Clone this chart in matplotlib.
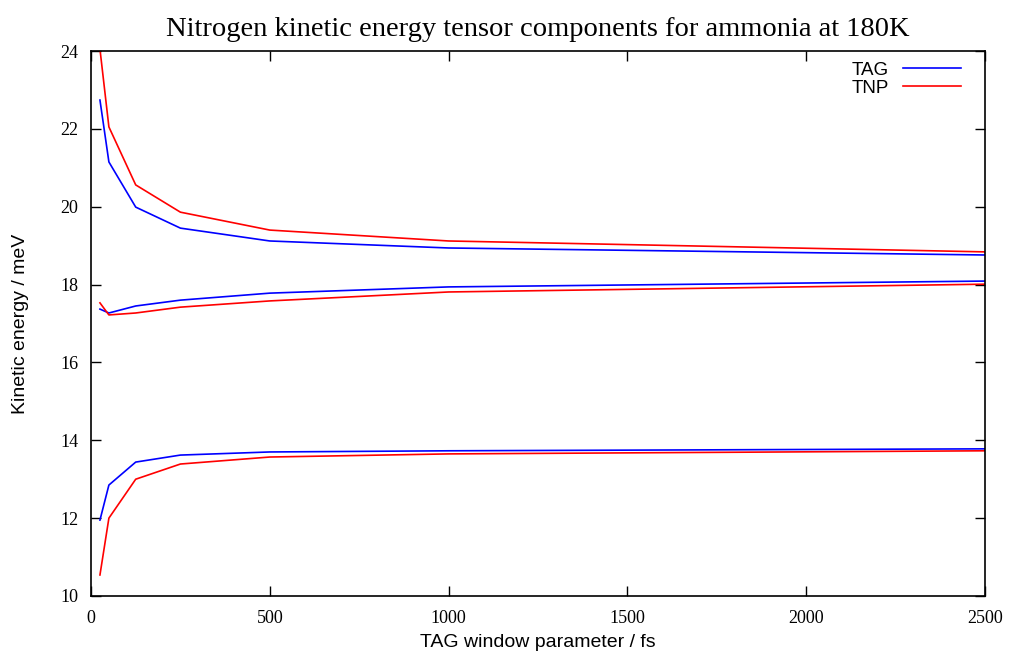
import matplotlib
matplotlib.use("Agg")
import matplotlib.pyplot as plt

# TAG window parameter (fs)
window = [25, 50, 125, 250, 500, 1000, 2500]

# three tensor components, TAG vs TNP estimators (meV)
tag_c1 = [22.74, 21.15, 19.99, 19.45, 19.12, 18.94, 18.76]
tnp_c1 = [24.05, 22.05, 20.56, 19.86, 19.40, 19.12, 18.84]
tag_c2 = [17.37, 17.27, 17.45, 17.60, 17.78, 17.94, 18.09]
tnp_c2 = [17.53, 17.22, 17.27, 17.42, 17.58, 17.81, 18.01]
tag_c3 = [11.95, 12.85, 13.44, 13.62, 13.70, 13.73, 13.78]
tnp_c3 = [10.54, 12.00, 13.00, 13.39, 13.57, 13.65, 13.73]

xticks = [0, 500, 1000, 1500, 2000, 2500]
yticks = [10, 12, 14, 16, 18, 20, 22, 24]

fig = plt.figure(figsize=(10.09, 6.54), dpi=100)
ax = fig.add_axes([0.0902, 0.0887, 0.886, 0.8333])

lw = 1.2
ax.plot(window, tag_c1, color="#0000ff", lw=lw, label="TAG")
ax.plot(window, tnp_c1, color="#ff0000", lw=lw, label="TNP")
ax.plot(window, tag_c2, color="#0000ff", lw=lw)
ax.plot(window, tnp_c2, color="#ff0000", lw=lw)
ax.plot(window, tag_c3, color="#0000ff", lw=lw)
ax.plot(window, tnp_c3, color="#ff0000", lw=lw)

ax.set_xlim(0, 2500)
ax.set_ylim(10, 24)
ax.set_xticks(xticks)
ax.set_yticks(yticks)
ax.tick_params(direction="in", length=7, width=1, top=True, right=True,
               labelsize=13)
ax.tick_params(axis="x", pad=10)
ax.tick_params(axis="y", pad=9)
for lab in ax.get_xticklabels() + ax.get_yticklabels():
    lab.set_family("Liberation Serif")
for s in ax.spines.values():
    s.set_linewidth(1.2)

ax.set_xlabel("TAG window parameter / fs", fontsize=14, family="Liberation Sans",
              va="center")
ax.set_ylabel("Kinetic energy / meV", fontsize=14, family="Liberation Sans",
              va="center")
ax.xaxis.set_label_coords(0.5, -0.086)
ax.yaxis.set_label_coords(-0.0794, 0.5)
ax.set_title("Nitrogen kinetic energy tensor components for ammonia at 180K",
             fontsize=20.5, family="Liberation Serif", pad=11)

leg = ax.legend(loc="upper right", frameon=False, markerfirst=False,
                prop={"family": "Liberation Sans", "size": 13.5},
                handlelength=3.1, handletextpad=0.75, labelspacing=0.05,
                borderaxespad=0.0, bbox_to_anchor=(0.982, 0.994))

fig.savefig("out.png", dpi=100)
